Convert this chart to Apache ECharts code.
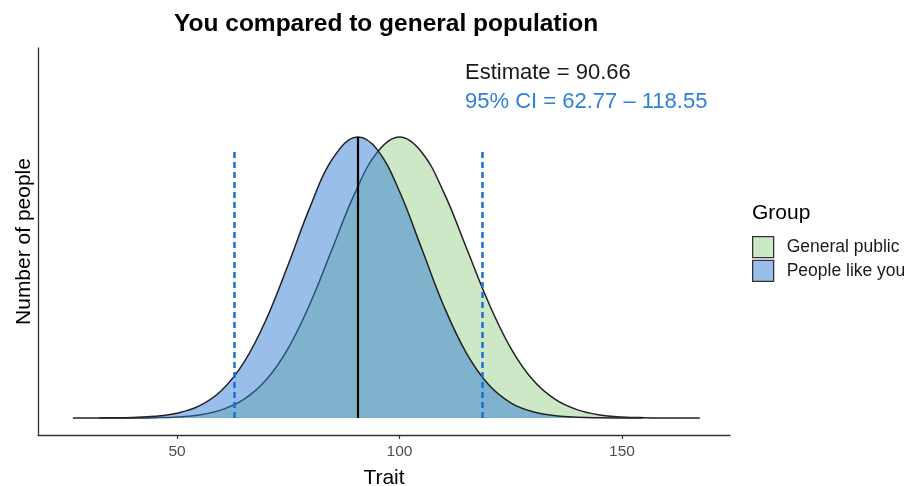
<!DOCTYPE html>
<html>
<head>
<meta charset="utf-8">
<script src="https://cdn.jsdelivr.net/npm/echarts@6/dist/echarts.min.js"></script>
<style>
  html, body { margin: 0; padding: 0; background: #ffffff; }
  #chart { width: 908px; height: 486px; }
</style>
</head>
<body>
<div id="chart"></div>
<script>
// ---- Data (relative density, peak = 1) ----
const groups = ['General public', 'People like you'];

const publicX = [32.5, 35, 40, 45, 50, 55, 60, 65, 70, 75, 80, 85, 90, 95, 100,
                 105, 110, 115, 120, 125, 130, 135, 140, 145, 150, 155, 160, 165, 167.5];
const publicY = [0, 0.0001, 0.0003, 0.0012, 0.0039, 0.011, 0.029, 0.066, 0.135, 0.249, 0.411, 0.607, 0.801, 0.946, 1,
                 0.946, 0.801, 0.607, 0.411, 0.249, 0.135, 0.066, 0.029, 0.011, 0.0039, 0.0012, 0.0003, 0.0001, 0];

const youX = [26.6, 30, 35, 40, 45, 50, 55, 60, 65, 70, 75, 80, 85, 90.66,
              95, 100, 105, 110, 115, 120, 125, 130, 135, 140, 145, 150, 154.7];
const youY = [0, 0.0001, 0.0005, 0.0018, 0.0058, 0.017, 0.043, 0.098, 0.197, 0.349, 0.546, 0.755, 0.924, 1,
              0.955, 0.806, 0.602, 0.397, 0.232, 0.119, 0.054, 0.022, 0.008, 0.0025, 0.0007, 0.0002, 0];

const estimate = 90.66;
const ciLow = 62.77;
const ciHigh = 118.55;
const estimateTop = 1;     // black line reaches the peak
const ciTop = 0.955;       // dashed CI lines height

const xTicks = [50, 100, 150];

// ---- Chart ----
const pair = (xs, ys) => xs.map((x, i) => [x, ys[i]]);

const greenFill = 'rgba(155,209,141,0.5)';
const blueFill = 'rgba(49,125,211,0.5)';
const outline = '#222222';
const ciColor = '#1a6fd6';
const FONT = 'Liberation Sans, Arial, sans-serif';

const chart = echarts.init(document.getElementById('chart'), null, { renderer: 'canvas' });

chart.setOption({
  animation: false,
  backgroundColor: '#ffffff',
  textStyle: { fontFamily: FONT },
  title: {
    text: 'You compared to general population',
    left: 174,
    top: 12,
    padding: 0,
    textStyle: { fontSize: 24.5, fontWeight: 'bold', color: '#000000', fontFamily: FONT }
  },
  grid: { left: 38, right: 178, top: 48, bottom: 51, containLabel: false, outerBoundsMode: 'none' },
  xAxis: {
    type: 'value',
    min: 18.76,
    max: 174.27,
    name: 'Trait',
    nameLocation: 'middle',
    nameGap: 33,
    nameTextStyle: { fontSize: 21, color: '#000000' },
    axisLine: { show: true, onZero: false, lineStyle: { color: '#333333', width: 1.3 } },
    axisTick: { show: true, customValues: xTicks, length: 4, lineStyle: { color: '#333333', width: 1.2 } },
    axisLabel: { show: true, customValues: xTicks, fontSize: 15.5, color: '#4d4d4d', margin: 9 },
    splitLine: { show: false }
  },
  yAxis: {
    type: 'value',
    min: -0.0605,
    max: 1.3167,
    name: 'Number of people',
    nameLocation: 'middle',
    nameGap: 3,
    nameTextStyle: { fontSize: 21, color: '#000000' },
    axisLine: { show: true, onZero: false, lineStyle: { color: '#333333', width: 1.3 } },
    axisTick: { show: false },
    axisLabel: { show: false },
    splitLine: { show: false }
  },
  legend: {
    orient: 'vertical',
    left: 752,
    top: 236,
    padding: 0,
    itemWidth: 21,
    itemHeight: 21,
    itemGap: 1.5,
    selectedMode: false,
    textStyle: { fontSize: 17.5, color: '#1a1a1a', padding: [0, 0, 0, 8] },
    data: [
      { name: groups[0], icon: 'rect', itemStyle: { color: '#cde8c6', borderColor: '#333333', borderWidth: 1.3 } },
      { name: groups[1], icon: 'rect', itemStyle: { color: '#98bee9', borderColor: '#333333', borderWidth: 1.3 } }
    ]
  },
  graphic: [
    {
      type: 'text', left: 752, top: 203,
      style: { text: 'Group', fontSize: 21, fill: '#000000', fontFamily: FONT }
    },
    {
      type: 'text', left: 465, top: 62,
      style: { text: 'Estimate = ' + estimate.toFixed(2), fontSize: 22, fill: '#1a1a1a', fontFamily: FONT }
    },
    {
      type: 'text', left: 465, top: 91,
      style: { text: '95% CI = ' + ciLow.toFixed(2) + ' \u2013 ' + ciHigh.toFixed(2), fontSize: 22, fill: '#2e80db', fontFamily: FONT }
    }
  ],
  series: [
    {
      name: groups[0],
      type: 'line',
      data: pair(publicX, publicY),
      smooth: 0.4,
      showSymbol: false,
      symbol: 'none',
      lineStyle: { color: outline, width: 1.5 },
      areaStyle: { color: greenFill, opacity: 1, origin: 0 },
      z: 2
    },
    {
      name: groups[1],
      type: 'line',
      data: pair(youX, youY),
      smooth: 0.4,
      showSymbol: false,
      symbol: 'none',
      lineStyle: { color: outline, width: 1.5 },
      areaStyle: { color: blueFill, opacity: 1, origin: 0 },
      z: 3,
      markLine: {
        silent: true,
        symbol: ['none', 'none'],
        label: { show: false },
        animation: false,
        data: [
          [ { coord: [estimate, 0], lineStyle: { color: '#000000', width: 2.2, type: 'solid' } },
            { coord: [estimate, estimateTop] } ],
          [ { coord: [ciLow, 0], lineStyle: { color: ciColor, width: 2.5, type: [6, 4] } },
            { coord: [ciLow, ciTop] } ],
          [ { coord: [ciHigh, 0], lineStyle: { color: ciColor, width: 2.5, type: [6, 4] } },
            { coord: [ciHigh, ciTop] } ]
        ]
      }
    }
  ]
});
</script>
</body>
</html>
